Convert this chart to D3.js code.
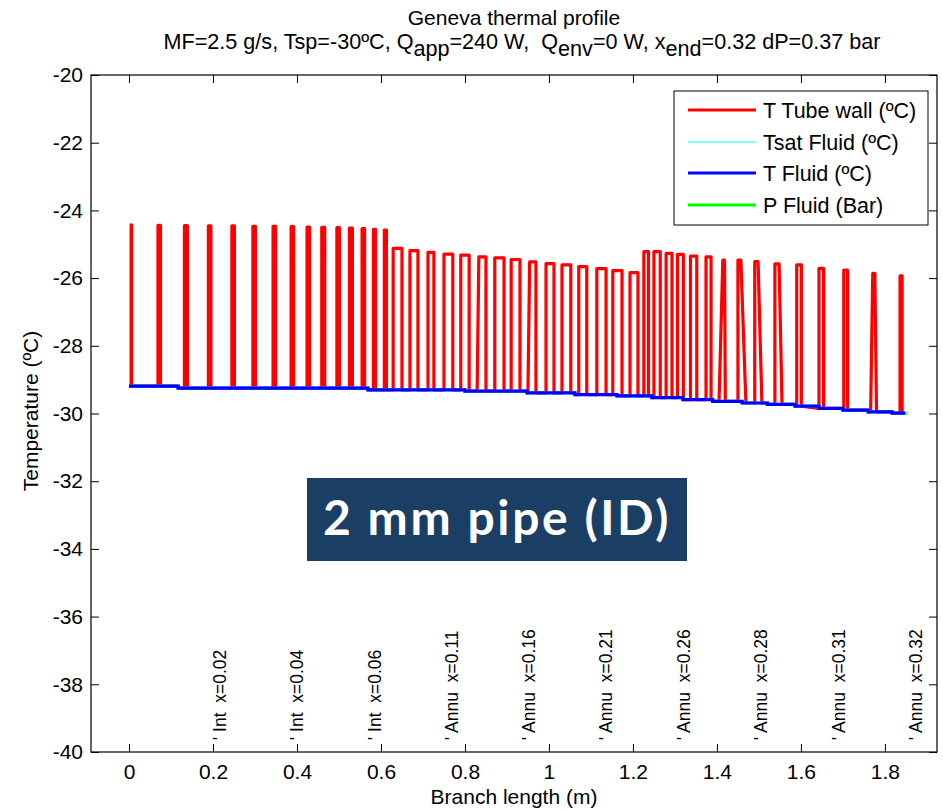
<!DOCTYPE html>
<html><head><meta charset="utf-8">
<script src="https://cdn.jsdelivr.net/npm/d3@7/dist/d3.min.js"></script>
<style>
body{margin:0;background:#fff}
svg{display:block}
text{fill:#000;white-space:pre}
</style>
</head><body>
<svg id="chart" width="943" height="811" font-family="'Liberation Sans', Arial, Helvetica, sans-serif"></svg>
<script>
// ---------- data ----------
const xTickValues = [0, 0.2, 0.4, 0.6, 0.8, 1, 1.2, 1.4, 1.6, 1.8];
const xTickLabels = ["0", "0.2", "0.4", "0.6", "0.8", "1", "1.2", "1.4", "1.6", "1.8"];
const yTickValues = [-40, -38, -36, -34, -32, -30, -28, -26, -24, -22, -20];
const yTickLabels = ["-40", "-38", "-36", "-34", "-32", "-30", "-28", "-26", "-24", "-22", "-20"];

// fluid temperature: piecewise constant segments (boundaries, value per segment)
const fluidBounds = [0, 0.117, 0.569, 0.800, 0.948, 1.062, 1.162, 1.245, 1.319, 1.390, 1.460, 1.520, 1.586, 1.643, 1.700, 1.760, 1.817, 1.848];
const fluidTemp   = [-29.19, -29.25, -29.30, -29.34, -29.39, -29.44, -29.48, -29.53, -29.59, -29.64, -29.69, -29.73, -29.78, -29.85, -29.90, -29.95, -29.99];
// saturation temperature (coincides with fluid temperature)
const tsatBounds = [0, 0.117, 0.569, 0.800, 0.948, 1.062, 1.162, 1.245, 1.319, 1.390, 1.460, 1.520, 1.586, 1.643, 1.700, 1.760, 1.817, 1.853];
const tsatTemp   = [-29.19, -29.25, -29.30, -29.34, -29.39, -29.44, -29.48, -29.53, -29.59, -29.64, -29.69, -29.73, -29.78, -29.85, -29.90, -29.95, -29.99];

// tube wall temperature pulses: rise foot, rise top, fall top, fall foot, peak temperature
const wallRiseX  = [0.005, 0.069, 0.132, 0.189, 0.245, 0.295, 0.343, 0.386, 0.424, 0.459, 0.495, 0.525, 0.555, 0.582, 0.608,
                    0.629, 0.669, 0.712, 0.750, 0.790, 0.829, 0.871, 0.910, 0.950, 0.993, 1.031, 1.071, 1.114, 1.152, 1.193,
                    1.226, 1.250, 1.279, 1.306, 1.337, 1.374, 1.405, 1.450, 1.490, 1.538, 1.590, 1.643, 1.702, 1.766, 1.836];
const wallTopX1  = [0.005, 0.069, 0.132, 0.189, 0.245, 0.295, 0.343, 0.386, 0.424, 0.459, 0.495, 0.525, 0.555, 0.582, 0.608,
                    0.629, 0.669, 0.712, 0.750, 0.790, 0.833, 0.871, 0.910, 0.954, 0.993, 1.031, 1.071, 1.114, 1.152, 1.193,
                    1.226, 1.250, 1.279, 1.306, 1.337, 1.374, 1.414, 1.450, 1.490, 1.538, 1.590, 1.643, 1.702, 1.771, 1.836];
const wallTopX2  = [0.006, 0.075, 0.139, 0.195, 0.251, 0.301, 0.349, 0.392, 0.430, 0.466, 0.501, 0.532, 0.561, 0.587, 0.613,
                    0.650, 0.688, 0.726, 0.771, 0.810, 0.850, 0.893, 0.931, 0.969, 1.012, 1.052, 1.090, 1.136, 1.174, 1.212,
                    1.237, 1.265, 1.293, 1.320, 1.352, 1.386, 1.418, 1.457, 1.498, 1.548, 1.601, 1.654, 1.711, 1.776, 1.841];
const wallFallX  = [0.006, 0.075, 0.139, 0.195, 0.251, 0.301, 0.349, 0.392, 0.430, 0.466, 0.501, 0.532, 0.561, 0.587, 0.613,
                    0.650, 0.688, 0.726, 0.771, 0.810, 0.850, 0.893, 0.931, 0.969, 1.012, 1.052, 1.090, 1.136, 1.174, 1.212,
                    1.237, 1.265, 1.293, 1.320, 1.352, 1.386, 1.420, 1.469, 1.507, 1.555, 1.601, 1.654, 1.711, 1.780, 1.841];
const wallPeakT  = [-24.43, -24.44, -24.45, -24.46, -24.46, -24.47, -24.47, -24.48, -24.49, -24.50, -24.51, -24.52, -24.54, -24.56, -24.58,
                    -25.12, -25.19, -25.24, -25.29, -25.32, -25.37, -25.40, -25.45, -25.52, -25.57, -25.61, -25.66, -25.72, -25.78, -25.84,
                    -25.22, -25.22, -25.27, -25.30, -25.35, -25.37, -25.47, -25.47, -25.51, -25.58, -25.61, -25.71, -25.76, -25.86, -25.93];

// section annotations
const noteLabels = ["' Int  x=0.02", "' Int  x=0.04", "' Int  x=0.06", "' Annu  x=0.11", "' Annu  x=0.16",
                    "' Annu  x=0.21", "' Annu  x=0.26", "' Annu  x=0.28", "' Annu  x=0.31", "' Annu  x=0.32"];
const noteX = [0.231, 0.415, 0.599, 0.783, 0.967, 1.151, 1.335, 1.519, 1.704, 1.888];
const noteY = -39.65;

const legendLabels = ["T Tube wall (ºC)", "Tsat Fluid (ºC)", "T Fluid (ºC)", "P Fluid (Bar)"];
const legendColors = ["#ff0000", "#00ffff", "#0000ff", "#00ff00"];
const legendWidths = [3, 1, 3, 3];

// ---------- layout ----------
const svg = d3.select("#chart");
const L = 91, R = 937, T = 75, B = 752;
const x = d3.scaleLinear().domain([-0.0905, 1.924]).range([L, R]);
const y = d3.scaleLinear().domain([-40, -20]).range([B, T]);

function stepPoints(bounds, vals) {
  const pts = [];
  for (let i = 0; i < vals.length; i++) {
    pts.push([bounds[i], vals[i]]);
    pts.push([bounds[i + 1], vals[i]]);
  }
  return pts;
}
function fluidAt(v) {
  for (let i = 0; i < fluidTemp.length; i++) if (v < fluidBounds[i + 1]) return fluidTemp[i];
  return fluidTemp[fluidTemp.length - 1];
}
const line = d3.line().x(d => x(d[0])).y(d => y(d[1]));

// wall path: follows fluid steps between pulses
const wallPts = [[0, fluidAt(0)]];
let prevX = 0;
function addSteps(from, to) {
  for (let b = 1; b < fluidBounds.length - 1; b++) {
    const bx = fluidBounds[b];
    if (bx > from && bx < to) {
      wallPts.push([bx, fluidTemp[b - 1]]);
      wallPts.push([bx, fluidTemp[b]]);
    }
  }
}
for (let i = 0; i < wallPeakT.length; i++) {
  addSteps(prevX, wallRiseX[i]);
  wallPts.push([wallRiseX[i], fluidAt(wallRiseX[i])]);
  wallPts.push([wallTopX1[i], wallPeakT[i]]);
  wallPts.push([wallTopX2[i], wallPeakT[i]]);
  wallPts.push([wallFallX[i], fluidAt(wallFallX[i])]);
  prevX = wallFallX[i];
}
addSteps(prevX, fluidBounds[fluidBounds.length - 1]);
wallPts.push([fluidBounds[fluidBounds.length - 1], fluidTemp[fluidTemp.length - 1]]);

svg.append("defs").append("clipPath").attr("id", "clip")
  .append("rect").attr("x", L).attr("y", T).attr("width", R - L).attr("height", B - T);

const plot = svg.append("g").attr("clip-path", "url(#clip)");
plot.append("path").attr("d", line(wallPts)).attr("fill", "none")
  .attr("stroke", "#ff0000").attr("stroke-width", 3.2).attr("stroke-linejoin", "round");
plot.append("path").attr("d", line(stepPoints(tsatBounds, tsatTemp))).attr("fill", "none")
  .attr("stroke", "#00ffff").attr("stroke-width", 3);
plot.append("path").attr("d", line(stepPoints(fluidBounds, fluidTemp))).attr("fill", "none")
  .attr("stroke", "#0000ff").attr("stroke-width", 3.2);

// axes
const fs = 21;
const gB = svg.append("g").attr("transform", `translate(0,${B})`)
  .call(d3.axisBottom(x).tickValues(xTickValues).tickFormat((d, i) => xTickLabels[i]).tickSizeInner(-8).tickSizeOuter(0).tickPadding(12));
const gL = svg.append("g").attr("transform", `translate(${L},0)`)
  .call(d3.axisLeft(y).tickValues(yTickValues).tickFormat((d, i) => yTickLabels[i]).tickSizeInner(-8).tickSizeOuter(0).tickPadding(8));
const gT = svg.append("g").attr("transform", `translate(0,${T})`)
  .call(d3.axisTop(x).tickValues(xTickValues).tickFormat("").tickSizeInner(-8).tickSizeOuter(0));
const gR = svg.append("g").attr("transform", `translate(${R},0)`)
  .call(d3.axisRight(y).tickValues(yTickValues).tickFormat("").tickSizeInner(-8).tickSizeOuter(0));
[gB, gL, gT, gR].forEach(g => {
  g.attr("font-family", null).attr("font-size", fs);
  g.select(".domain").remove();
  g.selectAll("line").attr("stroke", "#000").attr("stroke-width", 1);
  g.selectAll("text").attr("fill", "#000");
});
svg.append("rect").attr("x", L).attr("y", T).attr("width", R - L).attr("height", B - T)
  .attr("fill", "none").attr("stroke", "#000").attr("stroke-width", 1.2);

// annotations
svg.append("g").selectAll("text").data(noteLabels).join("text")
  .attr("transform", (d, i) => `translate(${x(noteX[i])},${y(noteY)}) rotate(-90)`)
  .attr("font-size", 17.5).text(d => d);

// titles
svg.append("text").attr("x", 514).attr("y", 25).attr("text-anchor", "middle").attr("font-size", 21)
  .text("Geneva thermal profile");
const t2 = svg.append("text").attr("x", 522).attr("y", 49).attr("text-anchor", "middle").attr("font-size", 21.6);
const parts = [["MF=2.5 g/s, Tsp=-30ºC, Q", 0], ["app", 1], ["=240 W,  Q", 0], ["env", 1], ["=0 W, x", 0], ["end", 1], ["=0.32 dP=0.37 bar", 0]];
let prevSub = 0;
parts.forEach(p => {
  const dy = (p[1] - prevSub) * 7;
  t2.append("tspan").attr("dy", dy).text(p[0]);
  prevSub = p[1];
});

svg.append("text").attr("x", 514).attr("y", 804).attr("text-anchor", "middle").attr("font-size", fs)
  .text("Branch length (m)");
svg.append("text").attr("transform", `translate(38,411) rotate(-90)`).attr("text-anchor", "middle").attr("font-size", fs)
  .text("Temperature (ºC)");

// legend
const lg = svg.append("g");
lg.append("rect").attr("x", 674).attr("y", 91).attr("width", 254).attr("height", 134)
  .attr("fill", "#fff").attr("stroke", "#000").attr("stroke-width", 1);
const legY = [110, 142, 173, 205];
legendLabels.forEach((lab, i) => {
  lg.append("line").attr("x1", 688).attr("x2", 756).attr("y1", legY[i]).attr("y2", legY[i])
    .attr("stroke", legendColors[i]).attr("stroke-width", legendWidths[i]);
  lg.append("text").attr("x", 763).attr("y", legY[i]).attr("dy", "0.36em").attr("font-size", 21.5).text(lab);
});

// pipe label
const pg = svg.append("g");
pg.append("rect").attr("x", 307).attr("y", 478).attr("width", 380).attr("height", 83).attr("fill", "#1b3e64");
pg.append("text").attr("x", 497).attr("y", 535).attr("text-anchor", "middle")
  .attr("font-family", "Lato, 'Open Sans', sans-serif").attr("font-weight", "bold").attr("font-size", 48)
  .attr("letter-spacing", 2.6)
  .style("fill", "#fff").text("2 mm pipe (ID)");
</script>
</body></html>
